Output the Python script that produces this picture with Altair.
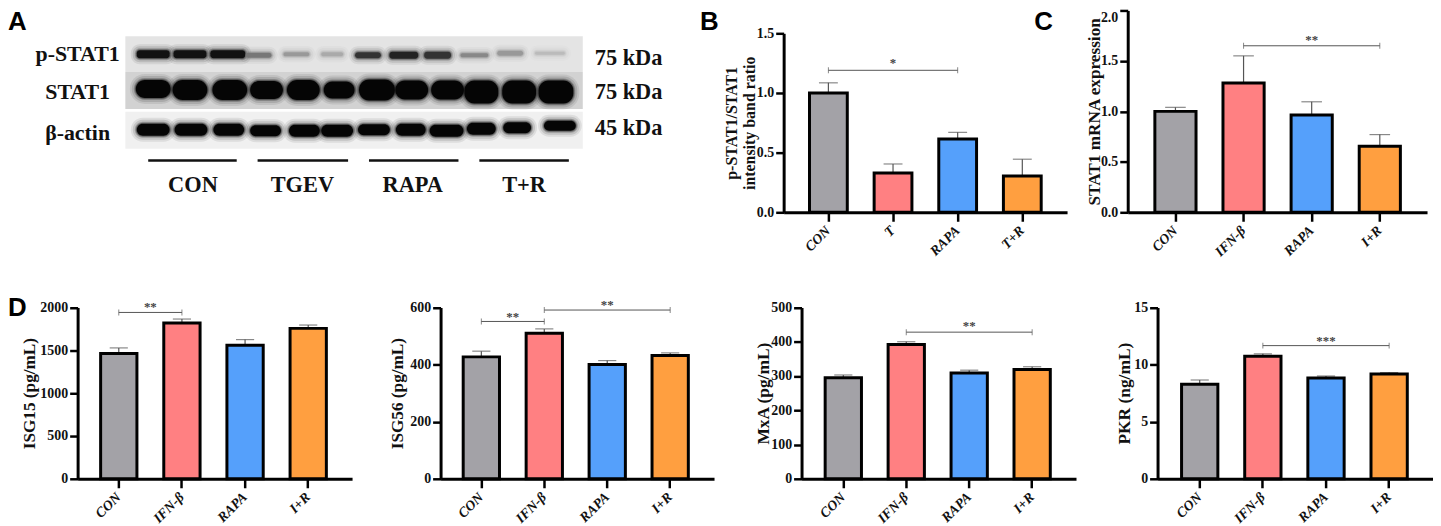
import altair as alt
import pandas as pd

W, H = 1433, 518
SERIF = "Liberation Serif"
SANS = "Liberation Sans"
PALETTE = ["#A3A2A7", "#FF8082", "#55A0FB", "#FF9F40"]

# ---- bar panels: values ----
labels_t = ["CON", "T", "RAPA", "T+R"]
labels_i = ["CON", "IFN-β", "RAPA", "I+R"]

b_val = [1.0, 0.33, 0.615, 0.305]
b_top = [1.085, 0.405, 0.67, 0.445]
c_val = [1.0, 1.28, 0.965, 0.655]
c_top = [1.04, 1.55, 1.095, 0.77]
d1_val = [1462, 1818, 1559, 1756]
d1_top = [1528, 1865, 1625, 1795]
d2_val = [427, 510, 400, 432]
d2_top = [447, 525, 414, 441]
d3_val = [295, 392, 309, 319]
d3_top = [303, 400, 317, 327]
d4_val = [8.27, 10.73, 8.82, 9.17]
d4_top = [8.65, 10.94, 9.0, 9.3]


def panel(labels, vals, tops, box, bands_geo, ymax, ticks, fmt, title, sigs, tsize, tpad, top_label=False):
    """box is (x0, x1, ytop, ybot) in page pixels; bands_geo is (first tick offset, step, bar width)."""
    x0, x1, ytop, ybot = box
    first, step, bw = bands_geo
    xr = [x0 - 8, x1 - 8]
    yr = [ybot - 8, ytop - 8]
    pi = 1 - bw / step
    po = ((x1 - x0) / step - (4 - pi)) / 2
    align = (first - bw / 2) / (2 * po * step)
    cx = [xr[0] + first + step * i for i in range(4)]
    xs = alt.Scale(domain=labels, range=xr, paddingInner=pi, paddingOuter=po, align=align)
    ys = alt.Scale(domain=[0, ymax], range=yr, nice=False)
    df = pd.DataFrame({"g": labels, "v": vals, "t": tops, "c": PALETTE})
    x_axis = alt.Axis(
        orient="bottom", offset=(ybot - 8) - H, title=None, labelAngle=315, labelAlign="right",
        labelBaseline="middle", labelFont=SERIF, labelFontWeight="bold", labelFontStyle="italic",
        labelFontSize=14, labelColor="#111", labelPadding=7, tickSize=9, tickWidth=2.5, tickColor="#000",
        domainWidth=3, domainColor="#000", grid=False, labelOverlap=False,
    )
    y_kw = {}
    if top_label:
        y_kw["labelBaseline"] = {"condition": {"test": f"datum.value == {ymax}", "value": "top"}, "value": "middle"}
    y_axis = alt.Axis(
        orient="left", offset=-(x0 - 8), values=ticks, format=fmt, title=title, grid=False,
        labelFont=SERIF, labelFontWeight="bold", labelFontSize=14, labelColor="#111", labelPadding=2,
        tickSize=8, tickWidth=2.5, tickColor="#000", domainWidth=3, domainColor="#000",
        titleFont=SERIF, titleFontWeight="bold", titleFontSize=tsize, titleColor="#111", titlePadding=tpad,
        **y_kw,
    )
    X = alt.X("g:N", scale=xs, axis=x_axis, sort=labels)
    Xn = alt.X("g:N", scale=xs, axis=None, sort=labels)
    Y = alt.Y("v:Q", scale=ys, axis=y_axis)
    Yn = alt.Y("t:Q", scale=ys, axis=None)
    base = alt.Chart(df)
    whisker = base.mark_rule(color="#555", strokeWidth=1.2).encode(x=Xn, y=alt.Y("v:Q", scale=ys, axis=None), y2="t:Q")
    cap = base.mark_tick(orient="horizontal", color="#555", size=bw * 0.5, thickness=1.2).encode(x=Xn, y=Yn)
    bars = base.mark_bar(width=bw, stroke="#000", strokeWidth=3).encode(
        x=X, y=Y, color=alt.Color("c:N", scale=None)
    )
    parts = [whisker, cap, bars]
    for a, b, yv, ys_v, stars in sigs:
        s = pd.DataFrame({"a": [labels[a]], "b": [labels[b]], "y": [yv], "ys": [ys_v], "star": [stars]})
        e = pd.DataFrame({"g": [labels[a], labels[b]], "y": [yv, yv]})
        parts.append(alt.Chart(s).mark_rule(color="#555", strokeWidth=1).encode(
            x=alt.X("a:N", scale=xs, axis=None, sort=labels), x2="b:N",
            y=alt.Y("y:Q", scale=ys, axis=None)))
        parts.append(alt.Chart(e).mark_tick(orient="vertical", color="#555", size=6, thickness=1).encode(
            x=Xn, y=alt.Y("y:Q", scale=ys, axis=None)))
        parts.append(alt.Chart(s).mark_text(font=SERIF, fontWeight="bold", fontSize=13, color="#444", baseline="middle").encode(
            x=alt.value((cx[a] + cx[b]) / 2), y=alt.Y("ys:Q", scale=ys, axis=None), text="star:N"))
    return parts


pB = panel(labels_t, b_val, b_top, (788, 1073, 32, 212), (45, 65, 38), 1.5, [0, .5, 1, 1.5], ".1f",
           ["p-STAT1/STAT1", "intensity band ratio"], [(0, 2, 1.19, 1.25, "*")], 16, -1.5)
pC = panel(labels_i, c_val, c_top, (1134, 1435, 9, 212), (48, 68.5, 41.4), 2.0, [0, .5, 1, 1.5, 2], ".1f",
           "STAT1 mRNA expression", [(1, 3, 1.65, 1.71, "**")], 17.3, -3.5, top_label=True)
pD1 = panel(labels_i, d1_val, d1_top, (78, 354, 307.7, 480), (41.4, 63.5, 36.5), 2000, [0, 500, 1000, 1500, 2000], "d",
            "ISG15 (pg/mL)", [(0, 1, 1942, 2000, "**")], 17.3, 1.5)
pD2 = panel(labels_i, d2_val, d2_top, (443, 718, 307.7, 480), (41, 63.3, 36.5), 600, [0, 200, 400, 600], "d",
            "ISG56 (pg/mL)", [(0, 1, 551, 566, "**"), (1, 3, 591, 607, "**")], 17.3, 3.5)
pD3 = panel(labels_i, d3_val, d3_top, (806, 1082, 307.7, 480), (42, 63.3, 36.5), 500, [0, 100, 200, 300, 400, 500], "d",
            "MxA (pg/mL)", [(1, 3, 428, 447, "**")], 17.5, -1.5)
pD4 = panel(labels_i, d4_val, d4_top, (1164, 1441, 307.7, 480), (42.4, 63.5, 36.5), 15, [0, 5, 10, 15], "d",
            "PKR (ng/mL)", [(1, 3, 11.66, 12.06, "***")], 17.5, 0.5)

# ---- blot panel: band positions / sizes / darkness, in blot pixels ----
row_top = [0, 36, 76]
row_bot = [36, 73, 113]
row_grey = ["#E4E4E4", "#D2D2D2", "#F0F0F0"]
lane1 = [28, 65, 103, 134, 172, 208, 244, 280, 314, 351, 387, 427]
lane2 = [28, 65, 105, 142, 179, 215, 253, 288, 324, 358, 396, 433]
lane3 = [28, 66, 104, 141, 180, 213, 250, 287, 323, 358, 394, 437]
ctr1 = [18, 18, 18, 19, 18, 18, 19, 19, 19, 19, 17, 17]
ctr2 = [53, 54, 54, 54, 54, 54, 54, 54, 54, 56, 56, 56]
ctr3 = [94, 94, 94, 95, 95, 95, 94, 94, 95, 93, 92, 90]
wid1 = [33, 33, 35, 26, 26, 22, 26, 29, 27, 28, 26, 30]
wid2 = [35, 35, 35, 33, 33, 31, 36, 33, 33, 34, 34, 35]
wid3 = [33, 33, 31, 31, 31, 32, 32, 30, 34, 29, 28, 32]
hgt1 = [8, 8, 8, 5, 4, 4, 6, 7, 7, 4, 5, 3]
hgt2 = [18, 20, 20, 18, 20, 17, 21, 19, 19, 23, 23, 23]
hgt3 = [12, 12, 12, 11, 12, 12, 11, 12, 12, 12, 11, 10]
ink1 = ["#111", "#111", "#111", "#777", "#999", "#AAA", "#333", "#222", "#333", "#888", "#999", "#BBB"]

xb = alt.Scale(domain=[0, 460], range=[118, 578], nice=False, zero=False)
yb = alt.Scale(domain=[0, 113], range=[27, 140], nice=False, zero=False)

rows_df = pd.DataFrame({"l": [0] * 3, "r": [460] * 3, "t": row_top, "b": row_bot, "c": row_grey})


def rect_layer(df, **mark):
    return alt.Chart(df).mark_rect(**mark).encode(
        x=alt.X("l:Q", scale=xb, axis=None), x2="r:Q",
        y=alt.Y("t:Q", scale=yb, axis=None), y2="b:Q",
        color=alt.Color("c:N", scale=None),
    )


def bands(lane, ctr, wid, hgt, ink, grow=0.0):
    return pd.DataFrame({
        "l": [x - w / 2 - grow for x, w in zip(lane, wid)],
        "r": [x + w / 2 + grow for x, w in zip(lane, wid)],
        "t": [y - h / 2 - grow for y, h in zip(ctr, hgt)],
        "b": [y + h / 2 + grow for y, h in zip(ctr, hgt)],
        "c": ink,
    })


blot_layers = [rect_layer(rows_df)]
for lane, ctr, wid, hgt, ink, rad in [
    (lane1, ctr1, wid1, hgt1, ink1, 3),
    (lane2, ctr2, wid2, hgt2, ["#050505"] * 12, 10),
    (lane3, ctr3, wid3, hgt3, ["#050505"] * 12, 6),
]:
    for grow, op in [(6, 0.08), (4, 0.12), (2, 0.22), (1, 0.35), (0, 1.0)]:
        blot_layers.append(rect_layer(bands(lane, ctr, wid, hgt, ink, grow), opacity=op, cornerRadius=rad + grow))

# ---- group rules under the blot ----
group_names = ["CON", "TGEV", "RAPA", "T+R"]
group_l = [23, 133, 245, 356]
group_r = [112, 224, 335, 446]
group_c = [68, 178, 289, 401]
gdf = pd.DataFrame({"l": group_l, "r": group_r, "n": group_names, "c": group_c, "y": [125] * 4, "ty": [150] * 4})
g_rule = alt.Chart(gdf).mark_rule(color="#111", strokeWidth=2.5).encode(
    x=alt.X("l:Q", scale=xb, axis=None), x2="r:Q", y=alt.Y("y:Q", scale=yb, axis=None))
g_text = alt.Chart(gdf).mark_text(font=SERIF, fontWeight="bold", fontSize=22.5, color="#111", baseline="middle").encode(
    x=alt.X("c:Q", scale=xb, axis=None), y=alt.Y("ty:Q", scale=yb, axis=None), text="n:N")

row_names = ["p-STAT1", "STAT1", "β-actin"]
row_lab_y = [18, 56, 97]
kda_names = ["75 kDa", "75 kDa", "45 kDa"]
kda_y = [22, 56, 92]
rl = pd.DataFrame({"n": row_names, "y": row_lab_y, "x": [-48] * 3})
kl = pd.DataFrame({"n": kda_names, "y": kda_y, "x": [472] * 3})
t_row = alt.Chart(rl).mark_text(font=SERIF, fontWeight="bold", fontSize=22, color="#111", baseline="middle").encode(
    x=alt.X("x:Q", scale=xb, axis=None), y=alt.Y("y:Q", scale=yb, axis=None), text="n:N")
t_kda = alt.Chart(kl).mark_text(font=SERIF, fontWeight="bold", fontSize=22.5, color="#111", baseline="middle", align="left").encode(
    x=alt.X("x:Q", scale=xb, axis=None), y=alt.Y("y:Q", scale=yb, axis=None), text="n:N")


# ---- panel letters ----
def letter(s, x, y):
    return alt.Chart(pd.DataFrame({"n": [s]})).mark_text(
        font=SANS, fontWeight="bold", fontSize=26, color="#000", baseline="top", align="left"
    ).encode(x=alt.value(x), y=alt.value(y), text="n:N")


letters = [letter("A", 0, 0), letter("B", 696, 0), letter("C", 1032, 0), letter("D", 0, 287)]

all_layers = blot_layers + [g_rule, g_text, t_row, t_kda] + pB + pC + pD1 + pD2 + pD3 + pD4 + letters

chart = alt.layer(*all_layers).resolve_scale(
    x="independent", y="independent", color="independent"
).resolve_axis(x="independent", y="independent").properties(
    width=W, height=H, padding=0, autosize=alt.AutoSizeParams(type="none")
).configure_view(stroke=None)

chart.save("out.html", embed_options={"renderer": "svg", "actions": False})
